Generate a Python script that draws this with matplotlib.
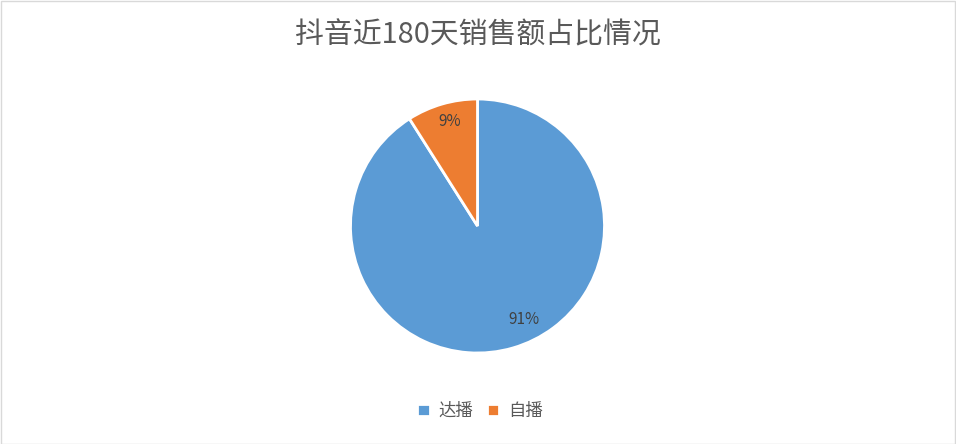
import matplotlib
matplotlib.use("Agg")
import matplotlib.pyplot as plt
from matplotlib.patches import Rectangle

plt.rcParams['font.family'] = ['Noto Sans CJK SC', 'DejaVu Sans']

categories = ['达播', '自播']
values = [91, 9]
colors = ['#5B9BD5', '#ED7D31']
title = '抖音近180天销售额占比情况'

W, H = 956, 444
fig = plt.figure(figsize=(W / 100, H / 100), dpi=100)
fig.patch.set_facecolor('white')

cx, cy, r = 477.5, 226, 127
ax = fig.add_axes([(cx - r) / W, (H - cy - r) / H, 2 * r / W, 2 * r / H])
wedges, texts, autotexts = ax.pie(
    values, colors=colors, startangle=90, counterclock=False,
    autopct=lambda p: f'{p:.0f}%', pctdistance=0.84, radius=1,
    wedgeprops=dict(edgecolor='white', linewidth=2),
    textprops=dict(color='#404040', fontsize=11))
# Excel-style label placement
autotexts[0].set_position((0.366, -0.740))
autotexts[1].set_position((-0.217, 0.823))
ax.set_xlim(-1, 1)
ax.set_ylim(-1, 1)
ax.set_aspect('equal')
ax.axis('off')

fig.text(478 / W, 1 - 35 / H, title, ha='center', va='center',
         fontsize=20.8, color='#595959')

fig.legend(wedges, categories, loc='center', bbox_to_anchor=(480 / W, 1 - 411 / H),
           ncol=2, frameon=False, fontsize=12.5, labelcolor='#595959',
           handlelength=0.7, handleheight=0.7, handletextpad=0.5, columnspacing=0.8)

fig.add_artist(Rectangle((0.5 / W, 0.5 / H), 1 - 1.5 / W, 1 - 1.5 / H,
                         transform=fig.transFigure, fill=False,
                         edgecolor='#D9D9D9', linewidth=1))

fig.savefig('out.png', dpi=100)
